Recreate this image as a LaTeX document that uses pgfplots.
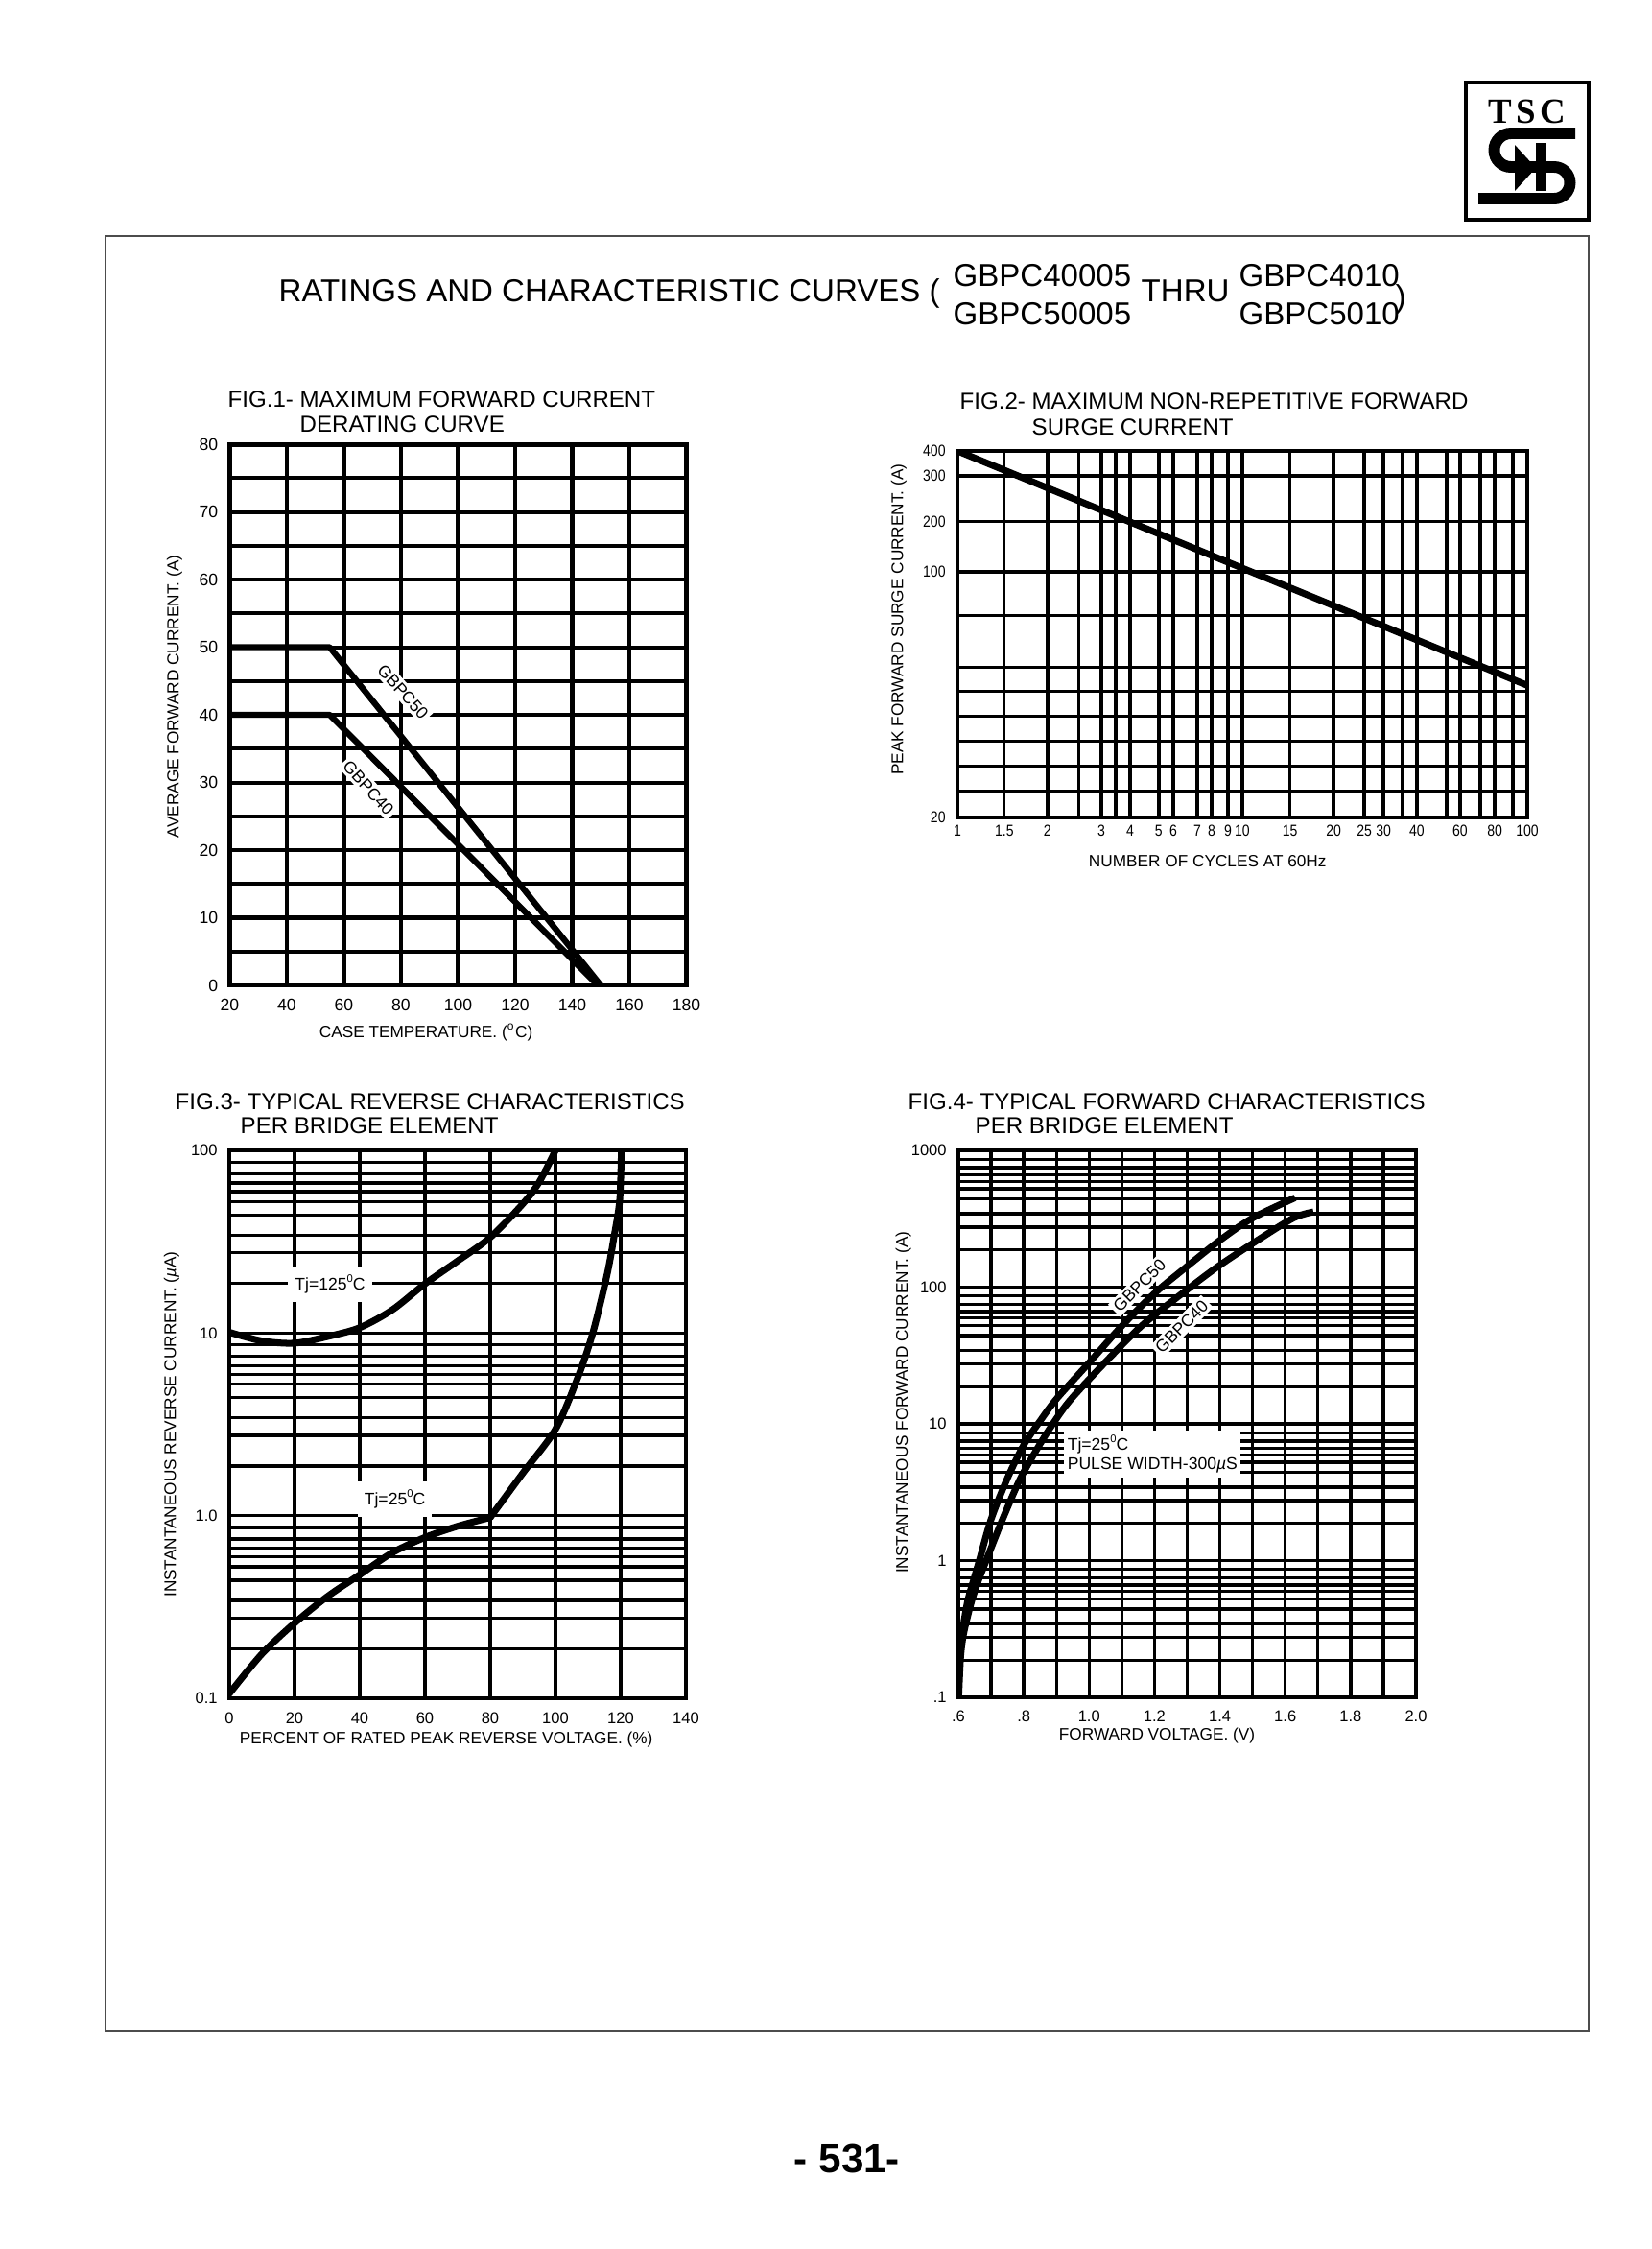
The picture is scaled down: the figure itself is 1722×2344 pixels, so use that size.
\documentclass[border=0pt]{standalone}
\usepackage{fontspec}
\setmainfont{Liberation Sans}
\newfontfamily\logofont{Liberation Serif}
\newfontfamily\narrowfont[FakeStretch=0.85]{Liberation Sans}
\usepackage{pgfplots}
\pgfplotsset{compat=1.18}

\newcommand{\fs}[1]{\fontsize{#1}{#1}\selectfont}
\newcommand{\degsup}{\raisebox{0.85ex}{\fs{3.2}0}}

\pgfplotsset{
  sheet/.style={
    scale only axis, anchor=south west,
    axis line style={line width=1.2pt},
    xmajorgrids, ymajorgrids, xminorgrids, yminorgrids,
    grid style={black, line width=0.95pt},
    minor grid style={black, line width=0.95pt},
    tick style={draw=none},
    tick label style={font=\fs{4.7}},
    label style={font=\fs{4.9}},
    /pgf/number format/assume math mode=true,
  },
  curve/.style={black, line width=2pt, no markers, line join=round},
}
\tikzset{lab/.style={fill=white, inner sep=0.8pt, font=\fs{5}}}

\begin{document}
\begin{tikzpicture}
% page furniture, in pixels of the 1722x2344 sheet
\begin{scope}[x=0.1mm,y=-0.1mm]
  \fill[white] (0,0) rectangle (1722,2344);
  \path[use as bounding box] (0,0) rectangle (1722,2344);
  \draw[line width=0.5pt, black!70] (110,246) rectangle (1656,2117);
  % logo
  \draw[line width=1pt] (1528,86) rectangle (1656,229);
  \node[inner sep=0, font=\logofont\bfseries\fs{10.5}] at (1592,116) {T\hspace{1.3pt}S\hspace{1.3pt}C};
  \draw[line width=3.4pt] (1642,139) -- (1575,139)
     arc[start angle=270, end angle=90, radius=17.5] -- (1620,174)
     arc[start angle=-90, end angle=90, radius=16.5] -- (1541,207);
  \fill (1579,151) -- (1601,175) -- (1579,199) -- cycle;
  \fill (1601,149) rectangle (1612,199);
  % heading
  \node[anchor=base west, inner sep=0, font=\fs{9.4}] at (290,314) {RATINGS AND CHARACTERISTIC CURVES (};
  \node[anchor=base west, inner sep=0, font=\fs{9.4}] at (993,298) {GBPC40005};
  \node[anchor=base west, inner sep=0, font=\fs{9.4}] at (993,338) {GBPC50005};
  \node[anchor=base west, inner sep=0, font=\fs{9.4}] at (1189,314) {THRU};
  \node[anchor=base west, inner sep=0, font=\fs{9.4}] at (1291,298) {GBPC4010};
  \node[anchor=base west, inner sep=0, font=\fs{9.4}] at (1291,338) {GBPC5010};
  \node[anchor=base west, inner sep=0, font=\fs{9.4}] at (1454,320) {)};
  % figure titles
  \node[anchor=base west, inner sep=0, font=\fs{6.85}] at (237,424) {FIG.1- MAXIMUM FORWARD CURRENT};
  \node[anchor=base west, inner sep=0, font=\fs{6.85}] at (312,450) {DERATING CURVE};
  \node[anchor=base west, inner sep=0, font=\fs{6.85}] at (1000,426) {FIG.2- MAXIMUM NON-REPETITIVE FORWARD};
  \node[anchor=base west, inner sep=0, font=\fs{6.85}] at (1075,453) {SURGE CURRENT};
  \node[anchor=base west, inner sep=0, font=\fs{6.85}] at (182,1156) {FIG.3- TYPICAL REVERSE CHARACTERISTICS};
  \node[anchor=base west, inner sep=0, font=\fs{6.85}] at (250,1181) {PER BRIDGE ELEMENT};
  \node[anchor=base west, inner sep=0, font=\fs{6.85}] at (946,1156) {FIG.4- TYPICAL FORWARD CHARACTERISTICS};
  \node[anchor=base west, inner sep=0, font=\fs{6.85}] at (1016,1181) {PER BRIDGE ELEMENT};
  % page number
  \node[anchor=base, inner sep=0, font=\bfseries\fs{12}] at (883,2264) {- 531-};
\end{scope}

% FIG.1 derating
\begin{axis}[sheet, at={(23.95mm,-102.7mm)}, width=47.6mm, height=56.4mm,
  xmin=20, xmax=180, ymin=0, ymax=80,
  xtick={20,40,...,180}, ytick={0,10,...,80}, minor ytick={5,15,...,75},
  tick label style={font=\fs{5}},
  xticklabel style={yshift=-0.6pt},
  axis line style={line width=1.4pt},
  grid style={black, line width=1.15pt}, minor grid style={black, line width=1.15pt},
  xlabel={CASE TEMPERATURE. (\textsuperscript{o}C)},
  ylabel={AVERAGE FORWARD CURRENT. (A)},
  xlabel style={at={(axis description cs:0.43,-0.087)}, anchor=center},
  ylabel style={at={(axis description cs:-0.121,0.534)}, anchor=center},
]
\addplot[curve, line width=1.8pt] coordinates {(20,50) (55,50) (150,0)};
\addplot[curve, line width=1.8pt] coordinates {(20,40) (55,40) (149,0)};
\node[lab, rotate=-48] at (axis cs:80.7,43.4) {GBPC50};
\node[lab, rotate=-48] at (axis cs:68.6,29.2) {GBPC40};
\end{axis}

% FIG.2 surge current (grid lines where the printed sheet has them)
\begin{axis}[sheet, at={(99.8mm,-85.2mm)}, width=59.4mm, height=38.2mm,
  xmode=log, ymode=log, xmin=1, xmax=100, ymin=20, ymax=400,
  xtick={1,1.46,2.07,3.20,4.04,5.09,5.72,6.95,7.80,8.90,10,14.7,20.9,26.8,31.3,41.0,58.1,76.9,100},
  xticklabels={1,1.5,2,3,4,5,6,7,8,9,10,15,20,25,30,40,60,80,100},
  minor xtick={2.66,3.59,36.5,52.1,68.4,89.1},
  ytick={20,149,225,326,400}, yticklabels={20,100,200,300,400},
  minor ytick={24.7,30.4,37.3,45.8,56.2,68.4,104},
  tick label style={font=\narrowfont\fs{4.7}},
  xticklabel style={yshift=1.2pt},
  xlabel={NUMBER OF CYCLES AT 60Hz},
  ylabel={PEAK FORWARD SURGE CURRENT. (A)},
  xlabel style={at={(axis description cs:0.439,-0.118)}, anchor=center},
  ylabel style={at={(axis description cs:-0.103,0.54)}, anchor=center},
]
\addplot[curve] coordinates {(1,400) (100,58.9)};
\end{axis}

% FIG.3 reverse characteristics
\begin{axis}[sheet, at={(23.9mm,-177mm)}, width=47.6mm, height=57.1mm,
  xmin=0, xmax=140, ymode=log, ymin=0.1, ymax=100,
  xtick={0,20,...,140},
  ytick={0.1,1,10,100}, yticklabels={0.1,1.0,10,100},
  minor ytick={0.187,0.275,0.344,0.442,0.525,0.594,0.662,0.746,0.861,
               1.87,2.75,3.44,4.42,5.25,5.94,6.62,7.46,8.61,
               18.7,27.5,34.4,44.2,52.5,59.4,66.2,74.6,86.1},
  xticklabel style={yshift=-0.7pt},
  xlabel={PERCENT OF RATED PEAK REVERSE VOLTAGE. (\%)},
  ylabel={INSTANTANEOUS REVERSE CURRENT. (\textit{µ}A)},
  xlabel style={at={(axis description cs:0.475,-0.075)}, anchor=center},
  ylabel style={at={(axis description cs:-0.126,0.50)}, anchor=center},
]
% Tj=125C
\addplot[curve, smooth] coordinates {(0,10.1) (10,9.05) (20,8.8) (30,9.55) (40,10.7) (50,13.4) (60,18.6) (70,24.8) (80,33.4) (90,51) (95,67) (100,100)};
% Tj=25C
\addplot[curve, smooth, line cap=round] coordinates {(0,0.106) (10,0.175) (20,0.258) (30,0.36) (40,0.475) (50,0.627) (60,0.76) (70,0.875) (80,0.977)};
\addplot[curve, smooth, line cap=round] coordinates {(80,0.977) (90,1.71) (100,2.97) (107,5.8) (111.5,10.1) (115.8,20.8) (118,34) (119.7,53.6) (120.2,100)};
\node[lab, inner xsep=2pt, inner ysep=2.5pt] at (axis cs:30.9,18.5) {Tj=125\degsup C};
\node[lab, inner xsep=2pt, inner ysep=2.5pt] at (axis cs:50.75,1.23) {Tj=25\degsup C};
\end{axis}

% FIG.4 forward characteristics
\begin{axis}[sheet, at={(99.9mm,-176.9mm)}, width=47.7mm, height=57mm,
  xmin=0.6, xmax=2.0, ymode=log, ymin=0.1, ymax=1000,
  xtick={0.6,0.8,1.0,1.2,1.4,1.6,1.8,2.0},
  xticklabels={.6,.8,1.0,1.2,1.4,1.6,1.8,2.0},
  minor xtick={0.7,0.9,1.1,1.3,1.5,1.7,1.9},
  ytick={0.1,1,10,100,1000}, yticklabels={.1,1,10,100,1000},
  minor ytick={0.187,0.275,0.344,0.442,0.525,0.594,0.662,0.746,0.861,
               1.87,2.75,3.44,4.42,5.25,5.94,6.62,7.46,8.61,
               18.7,27.5,34.4,44.2,52.5,59.4,66.2,74.6,86.1,
               187,275,344,442,525,594,662,746,861},
  xticklabel style={yshift=-0.4pt},
  xlabel={FORWARD VOLTAGE. (V)},
  ylabel={INSTANTANEOUS FORWARD CURRENT. (A)},
  xlabel style={at={(axis description cs:0.434,-0.070)}, anchor=center},
  ylabel style={at={(axis description cs:-0.12,0.539)}, anchor=center},
]
% GBPC50
\addplot[curve, smooth] coordinates {(0.600,0.1) (0.604,0.2) (0.612,0.3) (0.628,0.5) (0.645,0.7) (0.664,1.0) (0.700,2.0) (0.750,4.0) (0.800,7.0) (0.850,10.5) (0.900,15.2) (1.000,28) (1.100,52) (1.200,90) (1.300,142) (1.400,220) (1.500,320) (1.630,450)};
% GBPC40
\addplot[curve, smooth] coordinates {(0.601,0.1) (0.607,0.2) (0.617,0.3) (0.640,0.5) (0.660,0.7) (0.685,1.0) (0.735,2.0) (0.790,4.0) (0.848,7.0) (0.895,10.5) (0.945,15.2) (1.048,28) (1.160,52) (1.285,90) (1.395,142) (1.515,220) (1.625,320) (1.686,355)};
\node[lab, rotate=45] at (axis cs:1.154,103) {GBPC50};
\node[lab, rotate=45] at (axis cs:1.283,51.4) {GBPC40};
\node[lab, inner xsep=1pt, inner ysep=1.5pt, align=left, font=\fontsize{5}{5.6}\selectfont] at (axis cs:1.194,6.0) {Tj=25\degsup C\\PULSE WIDTH-300\textit{µ}S};
\end{axis}
\end{tikzpicture}
\end{document}
